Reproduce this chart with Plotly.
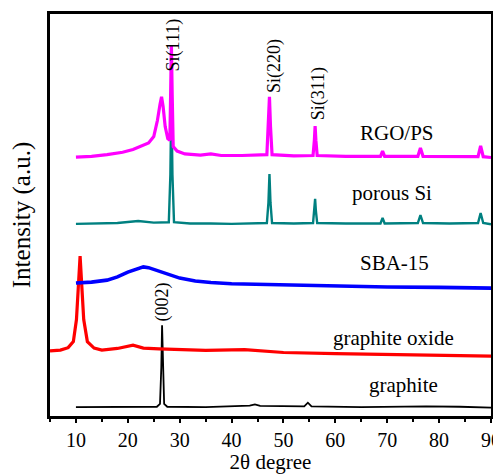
import plotly.graph_objects as go

# ---- data (2-theta in degrees, intensity in arbitrary offset units) ----
graphite_x = [10, 20, 25.6, 26.2, 26.45, 26.6, 26.75, 27.0, 27.6, 35, 43.5, 44.5, 45.5, 54.0, 54.7, 55.4, 65, 77.5, 84, 90]
graphite_y = [2.2, 2.2, 2.3, 3.0, 12.0, 22.6, 12.0, 3.0, 2.3, 2.2, 2.6, 2.9, 2.5, 2.4, 3.3, 2.4, 2.2, 2.4, 2.3, 2.1]

go_x = [5, 7, 8.5, 9.5, 10.1, 10.5, 10.8, 11.1, 11.5, 12.2, 13.5, 15, 18, 21, 23, 26, 30, 35, 42.5, 50, 60, 70, 80, 90]
go_y = [16.2, 16.4, 17.0, 18.5, 24.0, 33.0, 39.8, 33.0, 24.0, 18.5, 16.9, 16.4, 16.8, 17.6, 16.9, 16.7, 16.6, 16.3, 16.5, 15.8, 15.5, 15.3, 15.1, 14.9]

sba_x = [10, 13, 16, 18, 20, 22, 23, 24, 26, 28, 30, 33, 36, 40, 50, 60, 70, 80, 90]
sba_y = [33.1, 33.3, 33.8, 34.6, 35.8, 36.8, 37.1, 36.9, 36.0, 35.0, 34.3, 33.6, 33.2, 32.9, 32.6, 32.3, 32.1, 32.0, 31.8]

psi_x = [10, 18, 22, 25, 27.9, 28.2, 28.4, 28.6, 28.9, 32, 36, 40, 46.8, 47.1, 47.3, 47.5, 47.8, 52, 55.7, 55.95, 56.1, 56.25, 56.5, 62, 68.7, 69.1, 69.5, 75.9, 76.4, 76.9, 82, 87.5, 88.0, 88.5, 90]
psi_y = [47.8, 48.0, 48.5, 48.1, 48.2, 60.0, 79.9, 60.0, 48.2, 47.9, 47.9, 47.8, 48.0, 53.0, 60.2, 53.0, 48.0, 47.9, 48.0, 51.0, 54.0, 51.0, 48.0, 47.9, 47.9, 49.3, 47.9, 48.0, 50.0, 48.0, 47.9, 48.0, 50.5, 48.0, 47.7]

rgo_x = [10, 13, 16, 19, 21, 23, 24, 25, 25.7, 26.2, 26.5, 26.8, 27.2, 27.7, 28.1, 28.25, 28.4, 28.55, 28.75, 29.5, 31, 34, 36, 38, 42, 46.8, 47.1, 47.3, 47.5, 47.8, 52, 55.7, 55.95, 56.1, 56.25, 56.5, 62, 68.7, 69.1, 69.5, 75.9, 76.4, 76.9, 82, 87.5, 88.0, 88.5, 90]
rgo_y = [64.4, 64.6, 65.0, 65.6, 66.3, 67.3, 67.9, 69.5, 73.5, 77.5, 79.4, 77.0, 72.0, 69.0, 68.6, 80.0, 92.3, 80.0, 67.0, 65.9, 65.2, 64.9, 65.2, 64.8, 64.8, 65.0, 72.0, 79.4, 72.0, 65.0, 64.7, 64.8, 68.5, 72.1, 68.5, 64.8, 64.6, 64.6, 65.9, 64.6, 64.6, 66.7, 64.6, 64.5, 64.5, 67.2, 64.5, 64.3]

series_names = ["graphite", "graphite oxide", "SBA-15", "porous Si", "RGO/PS"]
series_colors = ["#000000", "#ff0000", "#0000ff", "#008080", "#ff00ff"]

# peak labels
peak_text = ["Si(111)", "Si(220)", "Si(311)", "(002)"]
peak_x = [28.8, 48.4, 56.7, 26.7]
peak_y = [92.3, 87.1, 80.1, 28.4]

# series labels
label_x = [73.2, 71.2, 71.4, 70.9, 71.8]
label_y = [7.7, 19.4, 38.1, 55.5, 70.4]

font_family = "Liberation Serif, Times New Roman, serif"

fig = go.Figure()
datasets = [(graphite_x, graphite_y, 1.8), (go_x, go_y, 3.2), (sba_x, sba_y, 3.6), (psi_x, psi_y, 2.4), (rgo_x, rgo_y, 3.2)]
for (xs, ys, w), name, col in zip(datasets, series_names, series_colors):
    fig.add_trace(go.Scatter(x=xs, y=ys, mode="lines", name=name,
                             line=dict(color=col, width=w), showlegend=False))

for t, x, y in zip(peak_text, peak_x, peak_y):
    fig.add_annotation(x=x, y=y, text=t, showarrow=False, textangle=-90,
                       font=dict(family=font_family, size=18, color="black"),
                       xanchor="center", yanchor="middle")

for t, x, y in zip(series_names, label_x, label_y):
    fig.add_annotation(x=x, y=y, text=t, showarrow=False,
                       font=dict(family=font_family, size=21, color="black"),
                       xanchor="center", yanchor="middle")

# the page body has an 8px default margin, so the figure is sized to fit the window
fig.update_layout(
    width=493, height=466,
    margin=dict(l=42, r=10, t=6, b=58),
    plot_bgcolor="white", paper_bgcolor="white",
    font=dict(family=font_family, color="black"),
)
fig.update_xaxes(range=[5, 90], tickvals=[10, 20, 30, 40, 50, 60, 70, 80, 90],
                 ticks="outside", ticklen=4, tickwidth=2, tickcolor="black",
                 minor=dict(tickvals=[5, 15, 25, 35, 45, 55, 65, 75, 85], ticks="outside", ticklen=3, tickwidth=2, tickcolor="black"),
                 showline=True, linewidth=3, linecolor="black", mirror=True,
                 showgrid=False, zeroline=False, automargin=False,
                 tickfont=dict(family=font_family, size=20),
                 title=dict(text="2θ degree", font=dict(family=font_family, size=21), standoff=11))
fig.update_yaxes(range=[0, 100], showticklabels=False, ticks="",
                 showline=True, linewidth=3, linecolor="black", mirror=True,
                 showgrid=False, zeroline=False, automargin=False,
                 title=dict(text="Intensity (a.u.)", font=dict(family=font_family, size=25), standoff=11))

fig.write_html("out.html")
